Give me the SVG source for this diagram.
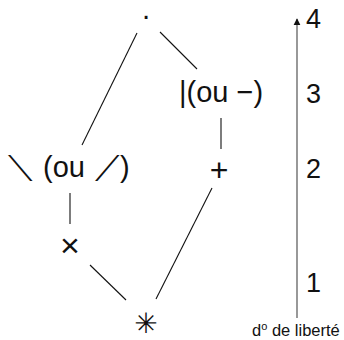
<svg xmlns="http://www.w3.org/2000/svg" width="344" height="340" viewBox="0 0 344 340">
<defs>
<style>
.lbl{font-family:"Liberation Sans","DejaVu Sans",sans-serif;font-size:29px;fill:#111}
.sym{font-family:"DejaVu Sans",sans-serif;fill:#111}
.num{font-family:"Liberation Sans","DejaVu Sans",sans-serif;font-size:27px;fill:#111}
.cap{font-family:"Liberation Sans","DejaVu Sans",sans-serif;font-size:16.5px;fill:#111}
.edge{stroke:#111;stroke-width:1.1;fill:none}
</style>
<marker id="ah" viewBox="0 0 10 10" refX="9" refY="5" markerWidth="7" markerHeight="10" markerUnits="userSpaceOnUse" orient="auto">
<path d="M0,0 L10,5 L0,10 z" fill="#111"/>
</marker>
</defs>
<rect width="344" height="340" fill="#fff"/>
<g id="connectors">
<line class="edge" x1="137" y1="33" x2="82" y2="145"/>
<line class="edge" x1="160" y1="32" x2="197" y2="69"/>
<line class="edge" x1="221" y1="118" x2="221" y2="149"/>
<line class="edge" x1="70" y1="193" x2="70" y2="224"/>
<line class="edge" x1="90" y1="265" x2="126" y2="300"/>
<line class="edge" x1="156" y1="299" x2="212" y2="188"/>
</g>
<g id="node-top"><text class="lbl" x="146" y="25" text-anchor="middle">·</text></g>
<g id="node-bar"><text class="lbl" x="221" y="102" text-anchor="middle">|(ou −)</text></g>
<g id="node-diag"><text class="lbl" y="177"><tspan x="8" y="181" style="font-size:35px">⟍</tspan><tspan x="43" y="177">(ou</tspan><tspan x="95" y="181" style="font-size:35px">⟋</tspan><tspan x="120" y="177">)</tspan></text></g>
<g id="node-plus"><text class="lbl" x="219" y="181" text-anchor="middle" style="font-size:32px">+</text></g>
<g id="node-times"><text class="lbl" x="70" y="256.5" text-anchor="middle" style="font-size:34px">×</text></g>
<g id="node-ast"><text class="sym" x="146" y="332.5" text-anchor="middle" style="font-size:28px">✳</text></g>
<g id="axis">
<line x1="297" y1="318" x2="297" y2="19" stroke="#444" stroke-width="1.1" marker-end="url(#ah)"/>
<text class="num" x="306" y="28">4</text>
<text class="num" x="306" y="103">3</text>
<text class="num" x="306" y="178">2</text>
<text class="num" x="306" y="292">1</text>
<text class="cap" x="252" y="336">d<tspan font-size="11" dy="-6">o</tspan><tspan dy="6"> de liberté</tspan></text>
</g>
</svg>
